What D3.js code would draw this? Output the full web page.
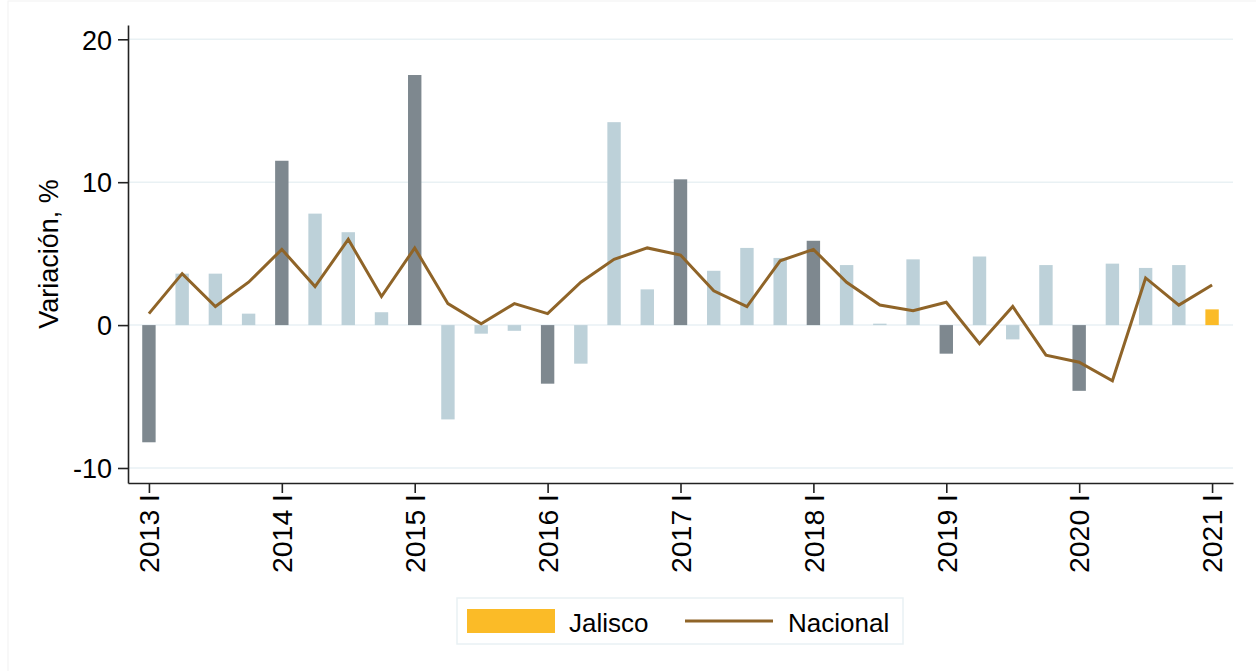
<!DOCTYPE html>
<html>
<head>
<meta charset="utf-8">
<script src="https://cdn.jsdelivr.net/npm/d3@7"></script>
<style>
  body { margin: 0; background: #fff; }
  text { font-family: "Liberation Sans", Arial, sans-serif; fill: #000; }
</style>
</head>
<body>
<svg class="chart"></svg>
<script>
/*Quarter labels, one per bar; only first quarters get a tick label*/
const quarters = ["2013 I","2013 II","2013 III","2013 IV","2014 I","2014 II","2014 III","2014 IV",
  "2015 I","2015 II","2015 III","2015 IV","2016 I","2016 II","2016 III","2016 IV",
  "2017 I","2017 II","2017 III","2017 IV","2018 I","2018 II","2018 III","2018 IV",
  "2019 I","2019 II","2019 III","2019 IV","2020 I","2020 II","2020 III","2020 IV","2021 I"]

/*Jalisco quarterly variation (bars)*/
const jalisco = [-8.2, 3.6, 3.6, 0.8, 11.5, 7.8, 6.5, 0.9,
  17.5, -6.6, -0.6, -0.4, -4.1, -2.7, 14.2, 2.5,
  10.2, 3.8, 5.4, 4.7, 5.9, 4.2, 0.1, 4.6,
  -2.0, 4.8, -1.0, 4.2, -4.6, 4.3, 4.0, 4.2, 1.1]

/*National variation (line)*/
const nacional = [0.8, 3.6, 1.3, 3.0, 5.3, 2.7, 6.0, 2.0,
  5.4, 1.5, 0.1, 1.5, 0.8, 3.0, 4.6, 5.4,
  4.9, 2.4, 1.3, 4.5, 5.3, 3.0, 1.4, 1.0,
  1.6, -1.3, 1.3, -2.1, -2.6, -3.9, 3.3, 1.4, 2.8]

const yTicks = [-10, 0, 10, 20]

const width = 1256, height = 671
const plot = { left: 128, right: 1233, top: 25, bottom: 483 }

const chart = d3.select(".chart")
  .attr("width", width)
  .attr("height", height)

/*faint outer frame of the graph region*/
chart.append("rect")
  .attr("x", 8).attr("y", 1)
  .attr("width", width).attr("height", height)
  .attr("fill", "none").attr("stroke", "#f2f2f2")

const x = d3.scaleLinear()
  .domain([-0.63, quarters.length - 1 + 0.63])
  .range([plot.left, plot.right])

const y = d3.scaleLinear()
  .domain([-11.05, 21.0])
  .range([plot.bottom, plot.top])

/*Grid lines*/
chart.append("g")
  .selectAll("line")
  .data(yTicks)
  .enter()
  .append("line")
    .attr("x1", plot.left).attr("x2", plot.right)
    .attr("y1", d => y(d)).attr("y2", d => y(d))
    .attr("stroke", "#e9f1f4")
    .attr("stroke-width", 1.5)

/*Bars*/
const barW = 13.4
chart.append("g")
  .selectAll("rect")
  .data(jalisco)
  .enter()
  .append("rect")
    .attr("x", (d, i) => x(i) - barW / 2)
    .attr("width", barW)
    .attr("y", d => y(Math.max(0, d)))
    .attr("height", d => Math.abs(y(d) - y(0)))
    .attr("fill", (d, i) => i === jalisco.length - 1 ? "#fbbb27" : (i % 4 === 0 ? "#7e888f" : "#bdd1d9"))

/*Nacional line*/
const line = d3.line()
  .x((d, i) => x(i))
  .y(d => y(d))

chart.append("path")
  .datum(nacional)
  .attr("d", line)
  .attr("fill", "none")
  .attr("stroke", "#8f6428")
  .attr("stroke-width", 3)
  .attr("stroke-linejoin", "miter")

/*Y axis*/
const yAxis = chart.append("g")
  .attr("transform", "translate(" + plot.left + ",0)")
  .call(d3.axisLeft(y).tickValues(yTicks).tickFormat(d => String(d)).tickSize(10).tickPadding(6).tickSizeOuter(0))
yAxis.select(".domain").attr("stroke", "#222").attr("stroke-width", 1.6)
yAxis.selectAll(".tick line").attr("stroke", "#222").attr("stroke-width", 1.6)
yAxis.selectAll(".tick text")
  .style("font-size", "27px")
  .attr("dy", "0.36em")

/*X axis*/
const yearIdx = d3.range(0, quarters.length, 4)
const xAxis = chart.append("g")
  .attr("transform", "translate(0," + plot.bottom + ")")
  .call(d3.axisBottom(x).tickValues(yearIdx).tickFormat(i => quarters[i]).tickSize(10).tickSizeOuter(0))
xAxis.select(".domain").attr("stroke", "#222").attr("stroke-width", 1.6)
xAxis.selectAll(".tick line").attr("stroke", "#222").attr("stroke-width", 1.6)
xAxis.selectAll(".tick text")
  .style("font-size", "27px")
  .attr("text-anchor", "end")
  .attr("transform", "rotate(-90)")
  .attr("x", -11)
  .attr("y", 0)
  .attr("dy", "0.36em")
  .attr("textLength", 79)
  .attr("lengthAdjust", "spacingAndGlyphs")

/*Y axis title*/
chart.append("text")
  .attr("transform", "translate(58,254) rotate(-90)")
  .attr("text-anchor", "middle")
  .style("font-size", "27px")
  .text("Variación, %")

/*Legend*/
const legend = chart.append("g")
legend.append("rect")
  .attr("x", 457).attr("y", 598).attr("width", 446).attr("height", 46)
  .attr("fill", "#fff").attr("stroke", "#e9f1f4").attr("stroke-width", 1.5)
legend.append("rect")
  .attr("x", 467).attr("y", 609).attr("width", 88).attr("height", 24)
  .attr("fill", "#fbbb27")
legend.append("text")
  .attr("x", 569).attr("y", 632)
  .style("font-size", "26px")
  .text("Jalisco")
legend.append("line")
  .attr("x1", 685).attr("x2", 773).attr("y1", 621).attr("y2", 621)
  .attr("stroke", "#8f6428").attr("stroke-width", 3)
legend.append("text")
  .attr("x", 788).attr("y", 632)
  .style("font-size", "26px")
  .text("Nacional")
</script>
</body>
</html>
